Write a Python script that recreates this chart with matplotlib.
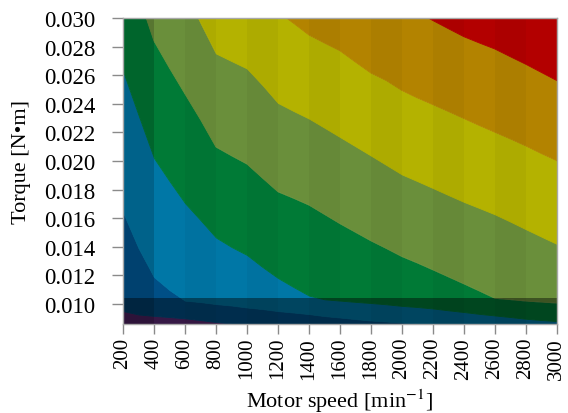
import matplotlib
matplotlib.use("Agg")
import matplotlib.pyplot as plt
import numpy as np

# Motor speed grid [min^-1]
speeds = [200, 300, 400, 500, 600, 700, 800, 900, 1000, 1100, 1200, 1300, 1400, 1500,
          1600, 1700, 1800, 1900, 2000, 2100, 2200, 2300, 2400, 2500, 2600, 2700, 2800,
          2900, 3000]

# Torque [N*m] of each contour boundary (bottom -> top)
b0 = [0.00951, 0.00927, 0.00917, 0.00909, 0.00900, 0.00888, 0.00874, 0.00864, 0.00853,
      0.00845, 0.00838, 0.00830, 0.00830, 0.00830, 0.00830, 0.00830, 0.00830, 0.00830,
      0.00830, 0.00830, 0.00830, 0.00830, 0.00830, 0.00830, 0.00830, 0.00830, 0.00830,
      0.00830, 0.00830]
b1 = [0.01643, 0.01392, 0.01189, 0.01098, 0.01024, 0.01014, 0.01000, 0.00990, 0.00976,
      0.00965, 0.00951, 0.00941, 0.00930, 0.00916, 0.00906, 0.00895, 0.00885, 0.00878,
      0.00871, 0.00864, 0.00857, 0.00850, 0.00845, 0.00840, 0.00835, 0.00830, 0.00830,
      0.00830, 0.00830]
b2 = [0.02630, 0.02322, 0.02021, 0.01860, 0.01706, 0.01587, 0.01465, 0.01399, 0.01343,
      0.01259, 0.01182, 0.01119, 0.01059, 0.01033, 0.01024, 0.01015, 0.01007, 0.00998,
      0.00987, 0.00979, 0.00969, 0.00956, 0.00944, 0.00931, 0.00920, 0.00909, 0.00897,
      0.00888, 0.00881]
b3 = [0.03480, 0.03160, 0.02839, 0.02650, 0.02469, 0.02290, 0.02098, 0.02037, 0.01979,
      0.01881, 0.01785, 0.01740, 0.01692, 0.01627, 0.01562, 0.01502, 0.01442, 0.01388,
      0.01332, 0.01287, 0.01239, 0.01190, 0.01141, 0.01091, 0.01040, 0.01031, 0.01021,
      0.01014, 0.01007]
b4 = [0.04000, 0.03800, 0.03600, 0.03400, 0.03188, 0.02966, 0.02752, 0.02699, 0.02647,
      0.02531, 0.02406, 0.02350, 0.02297, 0.02233, 0.02168, 0.02103, 0.02038, 0.01972,
      0.01906, 0.01859, 0.01811, 0.01762, 0.01714, 0.01671, 0.01627, 0.01576, 0.01523,
      0.01471, 0.01420]
b5 = [0.04200, 0.04100, 0.04000, 0.03900, 0.03800, 0.03700, 0.03600, 0.03400, 0.03250,
      0.03120, 0.03043, 0.02964, 0.02881, 0.02825, 0.02771, 0.02692, 0.02615, 0.02562,
      0.02493, 0.02441, 0.02394, 0.02346, 0.02297, 0.02248, 0.02201, 0.02154, 0.02105,
      0.02052, 0.02002]
b6 = [0.05000, 0.04900, 0.04800, 0.04700, 0.04600, 0.04500, 0.04400, 0.04300, 0.04200,
      0.04100, 0.04000, 0.03900, 0.03800, 0.03700, 0.03600, 0.03500, 0.03400, 0.03300,
      0.03110, 0.03041, 0.02982, 0.02925, 0.02869, 0.02825, 0.02783, 0.02729, 0.02676,
      0.02619, 0.02562]

level_colors = ["#5e2a78", "#004f86", "#0077a6", "#007a36", "#6a8f3b",
                "#b4b200", "#b38300", "#b30000"]

band_top = 0.0104
y_min, y_max = 0.00857, 0.030
x_ticks = [200, 400, 600, 800, 1000, 1200, 1400, 1600, 1800, 2000, 2200, 2400, 2600,
           2800, 3000]
y_ticks = [0.010, 0.012, 0.014, 0.016, 0.018, 0.020, 0.022, 0.024, 0.026, 0.028, 0.030]

plt.rcParams['mathtext.fontset'] = 'stix'
fig = plt.figure(figsize=(5.68, 4.14), dpi=100)
ax = fig.add_axes([0.2165, 0.2138, 0.764, 0.7403])

x = np.array(speeds)
bounds = [np.full(len(x), 0.0070), np.array(b0), np.array(b1), np.array(b2),
          np.array(b3), np.array(b4), np.array(b5), np.array(b6),
          np.full(len(x), 0.060)]
for k, c in enumerate(level_colors):
    ax.fill_between(x, bounds[k], bounds[k + 1], color=c, lw=0.6, ec=c, zorder=1)

# subtle column shading
for i, s in enumerate(x_ticks[:-1]):
    a = 0.17 if i == 0 else (0.035 if i % 2 == 0 else 0.0)
    if a > 0:
        ax.axvspan(s, x_ticks[i + 1], color="black", alpha=a, lw=0, zorder=2)

# darkened low-torque band
ax.axhspan(0.0070, band_top, color="black", alpha=0.42, lw=0, zorder=3)

ax.set_xlim(200, 3000)
ax.set_ylim(y_min, y_max)
ax.set_xticks(x_ticks)
ax.set_xticklabels([str(v) for v in x_ticks], rotation=90, fontsize=15,
                   family="Liberation Serif")
ax.set_yticks(y_ticks)
ax.set_yticklabels([f"{v:.3f}" for v in y_ticks], fontsize=16.5,
                   family="Liberation Serif")
ax.tick_params(axis="x", direction="out", length=7, width=1, color="#8a8a8a", pad=2)
ax.tick_params(axis="y", direction="out", length=8, width=1, color="#8a8a8a", pad=12)
for sp in ax.spines.values():
    sp.set_color("#a8a8a8")
    sp.set_linewidth(1)
    sp.set_zorder(5)

ax.set_xlabel(r"Motor speed [min$^{-1}$]", fontsize=16, family="Liberation Serif",
              labelpad=6)
ax.set_ylabel("Torque [N\u2022m]", fontsize=16, family="Liberation Serif")
ax.yaxis.set_label_coords(-0.212, 0.535)

fig.savefig("out.png", dpi=100)
